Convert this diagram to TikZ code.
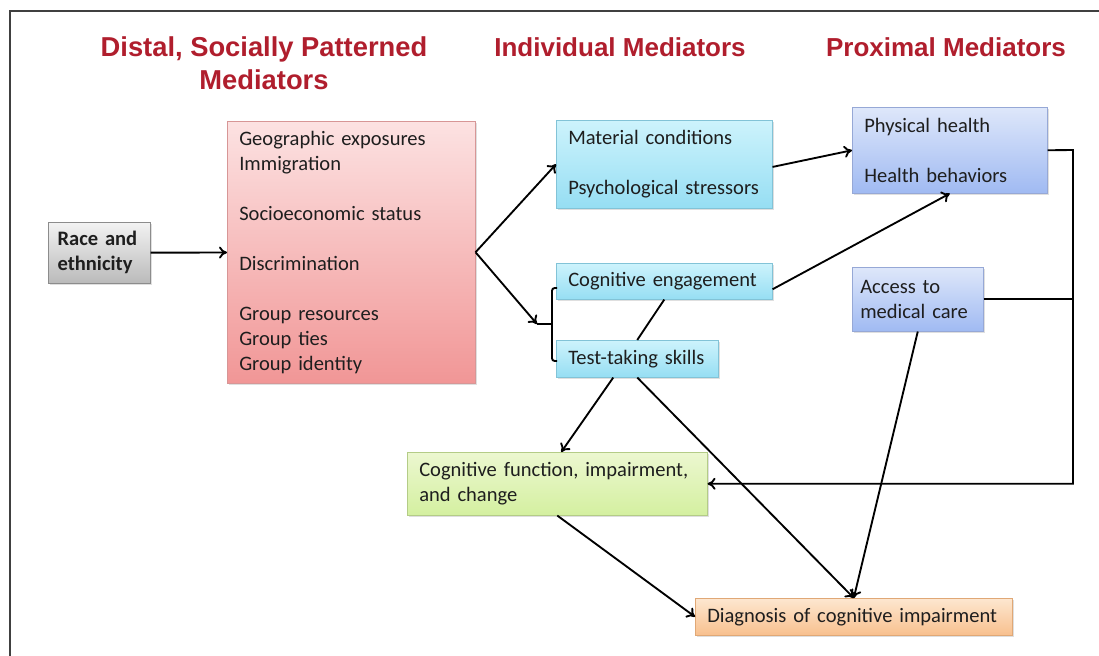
\documentclass[tikz,border=0pt]{standalone}
\usepackage{fontspec}
\setmainfont{Carlito}
\newfontfamily\titlefont{Liberation Sans}
\usetikzlibrary{arrows.meta,shadows}
\definecolor{titlered}{RGB}{176,30,45}
\definecolor{boxtext}{RGB}{30,30,30}
\tikzset{
  card/.style={rectangle, anchor=north west, inner xsep=9pt, inner ysep=0pt,
    align=left, text=boxtext, font=\fontsize{15.4}{18.75}\selectfont,
    drop shadow={shadow xshift=1pt, shadow yshift=-1.2pt, opacity=0.25}},
  grayc/.style={draw=black!45, top color=black!5, bottom color=black!27},
  pinkc/.style={draw={rgb,255:red,215;green,150;blue,150}, top color={rgb,255:red,252;green,226;blue,226}, bottom color={rgb,255:red,241;green,150;blue,150}},
  cyanc/.style={draw={rgb,255:red,130;green,195;blue,215}, top color={rgb,255:red,205;green,243;blue,252}, bottom color={rgb,255:red,150;green,222;blue,243}},
  bluec/.style={draw={rgb,255:red,150;green,168;blue,214}, top color={rgb,255:red,222;green,231;blue,250}, bottom color={rgb,255:red,160;green,186;blue,242}},
  greenc/.style={draw={rgb,255:red,180;green,204;blue,135}, top color={rgb,255:red,236;green,247;blue,208}, bottom color={rgb,255:red,212;green,240;blue,160}},
  orangec/.style={draw={rgb,255:red,224;green,168;blue,118}, top color={rgb,255:red,253;green,231;blue,208}, bottom color={rgb,255:red,248;green,192;blue,142}},
  ttl/.style={font=\titlefont\bfseries\fontsize{19.5}{24.75}\selectfont, text=titlered, align=center},
  arr/.style={-{To[length=6pt,width=9pt]}, line width=1.4pt},
  link/.style={line width=1.4pt}
}
\begin{document}
\begin{tikzpicture}[x=0.75pt, y=-0.75pt]
  \fill[white] (0,0) rectangle (1099,656);
  \useasboundingbox (0,0) rectangle (1099,656);
  \draw[line width=1.1pt, black!75] (10,656) -- (10,11) -- (1099,11);

  \node[ttl, font=\titlefont\bfseries\fontsize{20.5}{24.75}\selectfont] (tdistal) at (264,63.5) {Distal, Socially Patterned\\Mediators};
  \node[ttl] (tindiv) at (620,47) {Individual Mediators};
  \node[ttl] (tprox) at (946,47) {Proximal Mediators};

  \node[card, grayc, inner xsep=7pt, text width=62.5pt, minimum height=45.75pt,
    font=\fontsize{15.4}{18.75}\selectfont\bfseries] (race) at (48,222) {Race and\\ethnicity};
  \node[card, pinkc, text width=168pt, minimum height=196.5pt] (distal) at (227,121)
    {Geographic exposures\\Immigration\\[18.75pt]Socioeconomic status\\[18.75pt]Discrimination\\[18.75pt]Group resources\\Group ties\\Group identity};
  \node[card, cyanc, text width=144pt, minimum height=66pt] (material) at (556,120)
    {Material conditions\\[18.75pt]Psychological stressors};
  \node[card, cyanc, text width=144pt, minimum height=27pt] (cogeng) at (556,263) {Cognitive engagement};
  \node[card, cyanc, text width=103.5pt, minimum height=27.75pt] (testskill) at (556,340) {Test-taking skills};
  \node[card, bluec, text width=128.25pt, minimum height=64.5pt] (physical) at (852,107)
    {Physical health\\[18.75pt]Health behaviors};
  \node[card, bluec, inner xsep=6pt, text width=86.25pt, minimum height=48pt] (access) at (852,267) {Access to\\medical care};
  \node[card, greenc, text width=207pt, minimum height=47.25pt] (cogfun) at (407,452)
    {Cognitive function, impairment,\\and change};
  \node[card, orangec, text width=219.75pt, minimum height=27.75pt] (diag) at (695,598)
    {Diagnosis of cognitive impairment};

  \coordinate (brk) at (537,324);
  \coordinate (rail) at (1073,150);

  \draw[arr] (race) -- (distal);
  \draw[arr] (distal.east) -- (material.west);
  \draw[arr] (distal.east) -- (brk);
  \draw[link] (brk) -- (552,324);
  \draw[link, rounded corners=2pt] (557,288) -- (552,288) -- (552,361) -- (557,361);
  \draw[arr] ([yshift=-2pt]material.east) -- (physical.west);
  \draw[arr] ([yshift=-6pt]cogeng.east) -- (physical.south);
  \draw[arr] (physical.east) -- (rail) |- (cogfun.east);
  \draw[link] (access.east) -- (access.east -| rail);
  \draw[link] (cogeng.south) -- (testskill.north);
  \draw[arr] ([xshift=-18pt]testskill.south) -- ([xshift=3pt]cogfun.north);
  \draw[arr] (testskill.south) -- (diag.north);
  \draw[arr] (access.south) -- (diag.north);
  \draw[arr] (cogfun.south) -- (diag.west);
\end{tikzpicture}
\end{document}
